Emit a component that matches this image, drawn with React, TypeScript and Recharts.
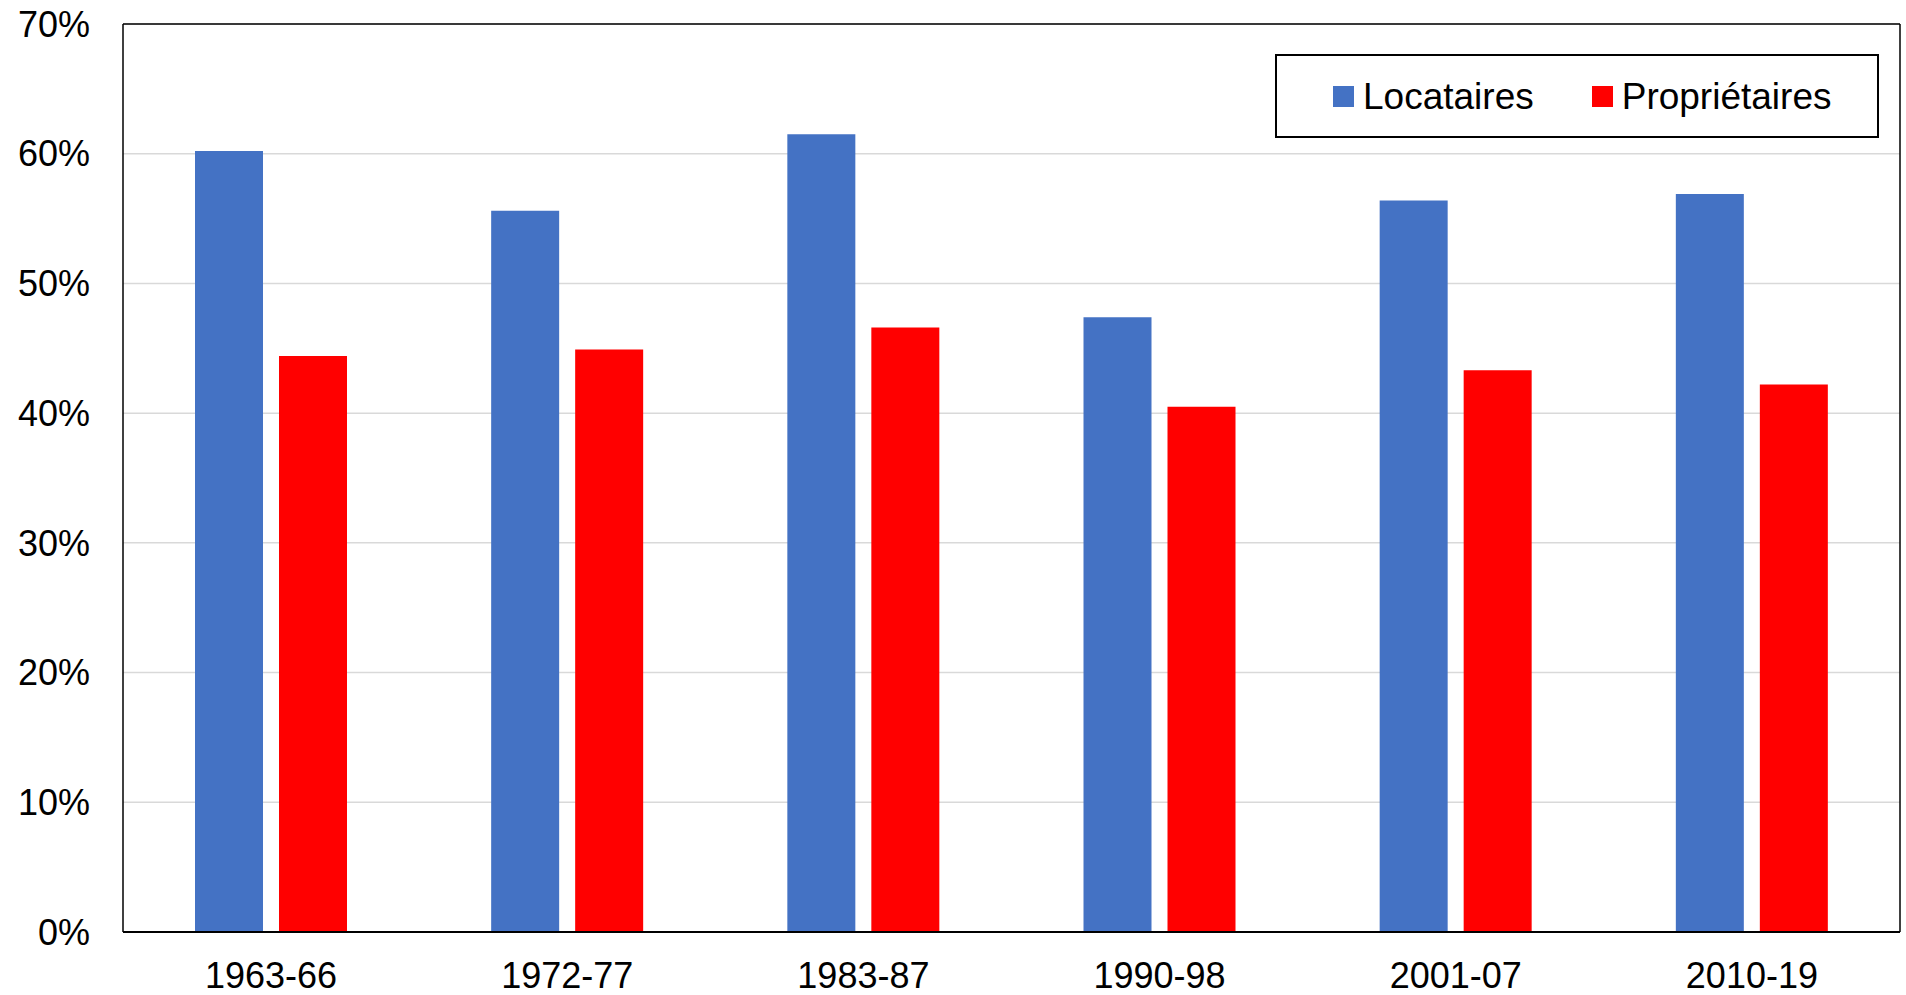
import { BarChart, Bar, XAxis, YAxis, CartesianGrid, Legend } from "recharts";

const periods = ["1963-66", "1972-77", "1983-87", "1990-98", "2001-07", "2010-19"];
const locataires = [60.2, 55.6, 61.5, 47.4, 56.4, 56.9];
const proprietaires = [44.4, 44.9, 46.6, 40.5, 43.3, 42.2];
const yTicks = [0, 10, 20, 30, 40, 50, 60, 70];

const seriesNames = { loc: "Locataires", prop: "Propriétaires" };
const colors = { loc: "#4472C4", prop: "#FF0000" };

const FONT = "'Liberation Sans', Arial, sans-serif";

function LegendBox() {
  const item = (color: string, label: string, ml: number) => (
    <div style={{ display: "flex", alignItems: "center", marginLeft: ml }}>
      <span style={{ width: 21, height: 21, background: color, display: "inline-block" }} />
      <span style={{ marginLeft: 9, fontSize: 37, color: "#000", lineHeight: 1 }}>{label}</span>
    </div>
  );
  return (
    <div style={{
      boxSizing: "border-box",
      width: 604, height: 84,
      border: "2px solid #000",
      background: "#fff",
      display: "flex", alignItems: "center",
      fontFamily: FONT,
    }}>
      {item(colors.loc, seriesNames.loc, 56)}
      {item(colors.prop, seriesNames.prop, 58)}
    </div>
  );
}

export default function App() {
  const data = periods.map((p, i) => ({ period: p, loc: locataires[i], prop: proprietaires[i] }));

  return (
    <div style={{ position: "fixed", left: 0, top: 0, width: 1906, height: 995, background: "#fff" }}>
      <BarChart
        width={1906}
        height={995}
        data={data}
        margin={{ top: 23, right: 5, left: 0, bottom: 0 }}
        barSize={68}
        barGap={16}
        style={{ fontFamily: FONT }}
      >
        <CartesianGrid vertical={false} stroke="#D9D9D9" strokeWidth={1.5} />
        <XAxis
          dataKey="period"
          height={63}
          tickSize={0}
          tickMargin={30}
          tickLine={false}
          axisLine={{ stroke: "#000", strokeWidth: 2 }}
          tick={{ fill: "#000", fontSize: 36, fontFamily: FONT }}
        />
        <XAxis xAxisId="top" dataKey="period" orientation="top" height={1} tick={false} tickLine={false}
          axisLine={{ stroke: "#000", strokeWidth: 1.5 }} />
        <YAxis
          width={123}
          domain={[0, 70]}
          ticks={yTicks}
          interval={0}
          tickSize={0}
          tickMargin={33}
          tickLine={false}
          axisLine={{ stroke: "#000", strokeWidth: 1.5 }}
          tickFormatter={(v) => `${v}%`}
          tick={{ fill: "#000", fontSize: 36, fontFamily: FONT }}
        />
        <YAxis yAxisId="right" orientation="right" width={1} domain={[0, 70]} tick={false} tickLine={false}
          axisLine={{ stroke: "#000", strokeWidth: 1.5 }} />
        <Legend
          layout="horizontal"
          verticalAlign="middle"
          align="center"
          content={() => <LegendBox />}
          wrapperStyle={{ position: "absolute", left: 1275, top: 54, width: 604, height: 84 }}
        />
        <Bar dataKey="loc" name={seriesNames.loc} fill={colors.loc} isAnimationActive={false} />
        <Bar dataKey="prop" name={seriesNames.prop} fill={colors.prop} isAnimationActive={false} />
      </BarChart>
    </div>
  );
}
